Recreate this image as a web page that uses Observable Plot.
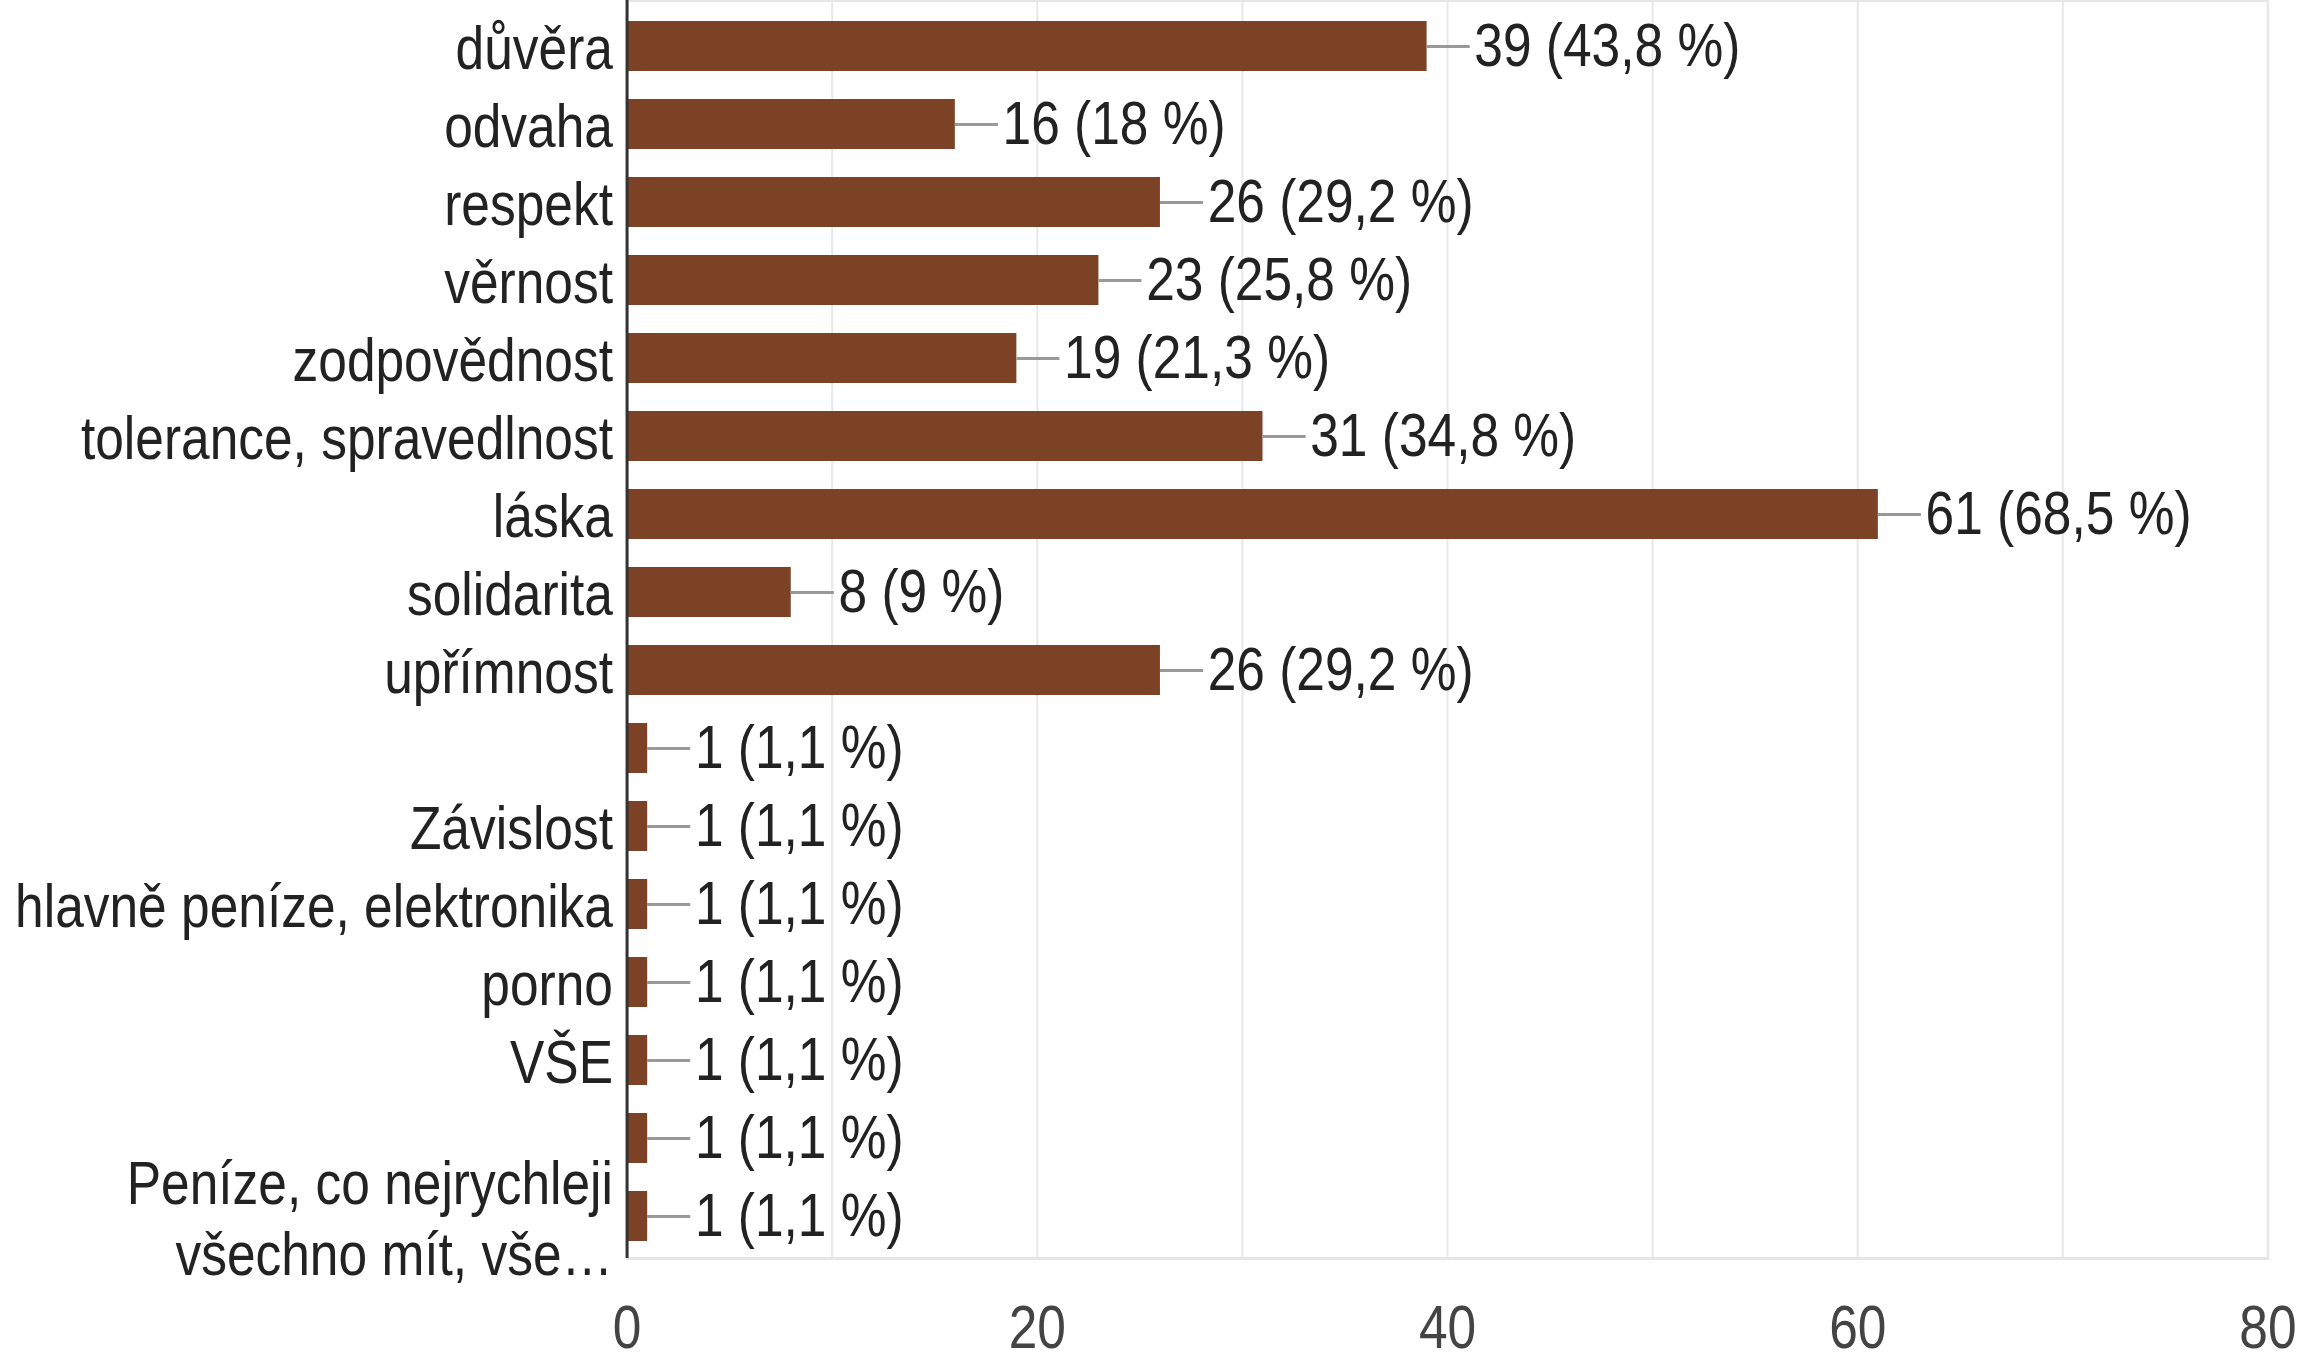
<!DOCTYPE html>
<html>
<head>
<meta charset="utf-8">
<script src="https://cdn.jsdelivr.net/npm/d3@7"></script>
<script src="https://cdn.jsdelivr.net/npm/@observablehq/plot@0.6"></script>
<style>
  html, body { margin: 0; padding: 0; background: #fff; overflow: hidden; }
  #chart { width: 2305px; height: 1361px; overflow: hidden; }
  #chart svg {
    display: block;
    max-width: none !important;
    height: 1361px !important;
    transform: scaleX(0.83);
    transform-origin: 0 0;
  }
</style>
</head>
<body>
<div id="chart"></div>
<script>
// ---- data ----
const categories = [
  "důvěra", "odvaha", "respekt", "věrnost", "zodpovědnost",
  "tolerance, spravedlnost", "láska", "solidarita", "upřímnost", "",
  "Závislost", "hlavně peníze, elektronika", "porno", "VŠE", "",
  "Peníze, co nejrychleji\nvšechno mít, vše…"
];
const counts = [39, 16, 26, 23, 19, 31, 61, 8, 26, 1, 1, 1, 1, 1, 1, 1];
const percents = [43.8, 18, 29.2, 25.8, 21.3, 34.8, 68.5, 9, 29.2, 1.1, 1.1, 1.1, 1.1, 1.1, 1.1, 1.1];
const xTicks = [0, 20, 40, 60, 80];
const gridTicks = [10, 20, 30, 40, 50, 60, 70, 80];

// ---- build table ----
const rows = categories.map((c, i) => ({
  i, label: c, count: counts[i], pct: percents[i]
}));
const fmtPct = p => String(p).replace(".", ",");

const K = 0.83;                       // horizontal condensing of the reference
const W = Math.round(2305 / K);
const H = 1361;
const FONT = "'Liberation Sans', Arial, Helvetica, sans-serif";
const LEADER = 2.1;                   // leader line length, in x units

const chart = Plot.plot({
  width: W,
  height: H,
  marginLeft: 755,
  marginRight: 45,
  marginTop: 0,
  marginBottom: 103,
  insetTop: 3,
  style: { fontFamily: FONT, fontSize: "62px", color: "#222", background: "#fff" },
  x: { domain: [0, 80] },
  y: { domain: d3.range(categories.length), paddingInner: 0.36, paddingOuter: 0.2 },
  marks: [
    Plot.frame({ stroke: "#e6e6e6", strokeWidth: 3 }),
    Plot.ruleX(gridTicks, { stroke: "#e8e8e8", strokeWidth: 2.4 }),
    Plot.barX(rows, { x: "count", y: "i", fill: "#7B4226" }),
    Plot.ruleY(rows, { y: "i", x1: "count", x2: d => d.count + LEADER, stroke: "#999", strokeWidth: 3 }),
    Plot.text(rows, {
      x: "count", y: "i", dx: 57, textAnchor: "start",
      text: d => `${d.count} (${fmtPct(d.pct)} %)`,
      fill: "#222", fontSize: 62
    }),
    Plot.ruleX([0], { stroke: "#333", strokeWidth: 3.6 }),
    Plot.axisY({
      tickSize: 0, tickPadding: 17, fontSize: 62, lineHeight: 1.15,
      tickFormat: i => categories[i], label: null, fill: "#222"
    }),
    Plot.axisX({
      ticks: xTicks, tickSize: 0, tickPadding: 45, fontSize: 62,
      label: null, fill: "#444"
    })
  ]
});

document.getElementById("chart").appendChild(chart);
</script>
</body>
</html>
